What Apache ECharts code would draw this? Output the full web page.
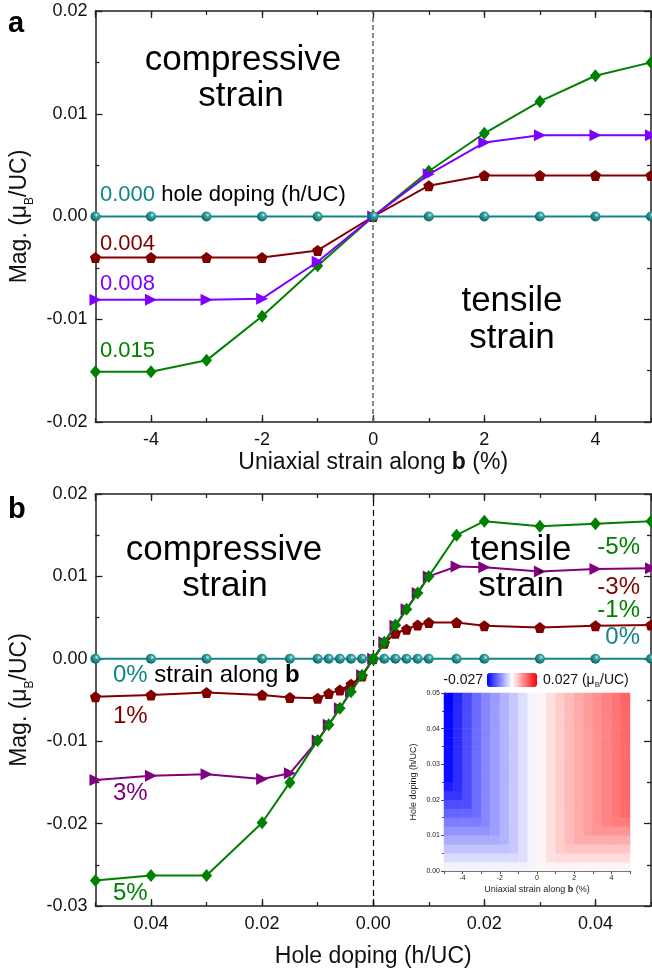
<!DOCTYPE html>
<html><head><meta charset="utf-8">
<script src="https://cdn.jsdelivr.net/npm/echarts@6/dist/echarts.min.js"></script>
<style>html,body{margin:0;padding:0;background:#fff}#c{width:652px;height:971px}</style>
</head><body><div id="c"></div>
<script>
// ---------- Panel a data ----------
const strainA = [-5,-4,-3,-2,-1,0,1,2,3,4,5];
const magA_000 = [0,0,0,0,0,0,0,0,0,0,0];
const magA_004 = [-0.004,-0.004,-0.004,-0.004,-0.0033,0,0.003,0.004,0.004,0.004,0.004];
const magA_008 = [-0.0081,-0.0081,-0.0081,-0.008,-0.0044,0,0.0041,0.0072,0.0079,0.0079,0.0079];
const magA_015 = [-0.0151,-0.0151,-0.014,-0.0097,-0.0048,0,0.0044,0.0081,0.0112,0.0137,0.015];

// ---------- Panel b data ----------
const dopingB = [-0.05,-0.04,-0.03,-0.02,-0.015,-0.01,-0.008,-0.006,-0.004,-0.002,0,0.002,0.004,0.006,0.008,0.01,0.015,0.02,0.03,0.04,0.05];
const magB_0 = [0,0,0,0,0,0,0,0,0,0,0,0,0,0,0,0,0,0,0,0,0];
const magB_1 = [-0.0046,-0.0044,-0.0041,-0.0044,-0.0047,-0.0048,-0.0042,-0.0038,-0.0031,-0.0021,0,0.0019,0.0031,0.0036,0.0041,0.0044,0.0044,0.004,0.0038,0.004,0.0041];
const magB_3 = [-0.0147,-0.0142,-0.014,-0.0146,-0.0139,-0.0099,-0.008,-0.006,-0.004,-0.002,0,0.002,0.004,0.006,0.008,0.01,0.0112,0.0111,0.0106,0.0109,0.011];
const magB_5 = [-0.0269,-0.0263,-0.0263,-0.0199,-0.015,-0.0099,-0.008,-0.006,-0.004,-0.002,0,0.002,0.0041,0.006,0.008,0.01,0.015,0.0167,0.0161,0.0164,0.0167];

// ---------- Inset heatmap data (cell centres) ----------
const heatStrain = [-4.75,-4.25,-3.75,-3.25,-2.75,-2.25,-1.75,-1.25,-0.75,-0.25,0.25,0.75,1.25,1.75,2.25,2.75,3.25,3.75,4.25,4.75];
const heatDoping = [0.00125,0.00375,0.00625,0.00875,0.01125,0.01375,0.01625,0.01875,0.02125,0.02375,0.02625,0.02875,0.03125,0.03375,0.03625,0.03875,0.04125,0.04375,0.04625,0.04875];
const heat_r00 = [-0.0013,-0.0013,-0.0013,-0.0013,-0.0013,-0.0013,-0.0013,-0.0013,-0.0013,-0.0012,0.0011,0.0013,0.0013,0.0013,0.0013,0.0013,0.0013,0.0013,0.0013,0.0013];
const heat_r01 = [-0.0038,-0.0038,-0.0038,-0.0038,-0.0038,-0.0038,-0.0038,-0.0038,-0.0035,-0.0012,0.0011,0.0033,0.0038,0.0038,0.0038,0.0038,0.0038,0.0038,0.0038,0.0038];
const heat_r02 = [-0.0063,-0.0063,-0.0063,-0.0063,-0.0063,-0.0063,-0.0063,-0.0058,-0.0035,-0.0012,0.0011,0.0033,0.0054,0.0063,0.0063,0.0063,0.0063,0.0063,0.0063,0.0063];
const heat_r03 = [-0.0088,-0.0088,-0.0088,-0.0088,-0.0088,-0.0088,-0.0081,-0.0058,-0.0035,-0.0012,0.0011,0.0033,0.0054,0.0072,0.0088,0.0088,0.0088,0.0088,0.0088,0.0088];
const heat_r04 = [-0.0113,-0.0113,-0.0113,-0.0113,-0.0113,-0.0104,-0.0081,-0.0058,-0.0035,-0.0012,0.0011,0.0033,0.0054,0.0072,0.0088,0.0103,0.0113,0.0113,0.0113,0.0113];
const heat_r05 = [-0.0138,-0.0138,-0.0138,-0.0138,-0.0127,-0.0104,-0.0081,-0.0058,-0.0035,-0.0012,0.0011,0.0033,0.0054,0.0072,0.0088,0.0103,0.0117,0.013,0.0138,0.0138];
const heat_r06 = [-0.0163,-0.0163,-0.0163,-0.0155,-0.0127,-0.0104,-0.0081,-0.0058,-0.0035,-0.0012,0.0011,0.0033,0.0054,0.0072,0.0088,0.0103,0.0117,0.013,0.0143,0.0158];
const heat_r07 = [-0.0188,-0.0188,-0.0188,-0.0155,-0.0127,-0.0104,-0.0081,-0.0058,-0.0035,-0.0012,0.0011,0.0033,0.0054,0.0072,0.0088,0.0103,0.0117,0.013,0.0143,0.0158];
const heat_r08 = [-0.0213,-0.0213,-0.0188,-0.0155,-0.0127,-0.0104,-0.0081,-0.0058,-0.0035,-0.0012,0.0011,0.0033,0.0054,0.0072,0.0088,0.0103,0.0117,0.013,0.0143,0.0158];
const heat_r09 = [-0.0238,-0.0222,-0.0188,-0.0155,-0.0127,-0.0104,-0.0081,-0.0058,-0.0035,-0.0012,0.0011,0.0033,0.0054,0.0072,0.0088,0.0103,0.0117,0.013,0.0143,0.0158];
const heat_r10 = [-0.0255,-0.0222,-0.0188,-0.0155,-0.0127,-0.0104,-0.0081,-0.0058,-0.0035,-0.0012,0.0011,0.0033,0.0054,0.0072,0.0088,0.0103,0.0117,0.013,0.0143,0.0158];
const heat_r11 = [-0.0257,-0.0222,-0.0188,-0.0155,-0.0127,-0.0104,-0.0081,-0.0058,-0.0035,-0.0012,0.0011,0.0033,0.0054,0.0072,0.0088,0.0103,0.0117,0.013,0.0143,0.0158];
const heat_r12 = [-0.0258,-0.0222,-0.0188,-0.0155,-0.0127,-0.0104,-0.0081,-0.0058,-0.0035,-0.0012,0.0011,0.0033,0.0054,0.0072,0.0088,0.0103,0.0117,0.013,0.0143,0.0158];
const heat_r13 = [-0.0258,-0.0223,-0.0188,-0.0155,-0.0127,-0.0104,-0.0081,-0.0058,-0.0035,-0.0012,0.0011,0.0033,0.0054,0.0072,0.0088,0.0103,0.0117,0.013,0.0143,0.0158];
const heat_r14 = [-0.0258,-0.0224,-0.0189,-0.0156,-0.0127,-0.0104,-0.0081,-0.0058,-0.0035,-0.0012,0.0011,0.0033,0.0054,0.0072,0.0088,0.0103,0.0117,0.0131,0.0144,0.0159];
const heat_r15 = [-0.0259,-0.0225,-0.019,-0.0156,-0.0128,-0.0104,-0.0081,-0.0058,-0.0035,-0.0012,0.0011,0.0033,0.0054,0.0072,0.0088,0.0103,0.0117,0.0131,0.0144,0.0159];
const heat_r16 = [-0.026,-0.0226,-0.019,-0.0157,-0.0128,-0.0105,-0.0081,-0.0058,-0.0035,-0.0012,0.0011,0.0033,0.0054,0.0072,0.0089,0.0104,0.0118,0.0131,0.0145,0.016];
const heat_r17 = [-0.0262,-0.0227,-0.0191,-0.0157,-0.0128,-0.0105,-0.0082,-0.0058,-0.0035,-0.0012,0.0011,0.0033,0.0054,0.0073,0.0089,0.0104,0.0118,0.0132,0.0145,0.016];
const heat_r18 = [-0.0265,-0.0228,-0.0192,-0.0158,-0.0129,-0.0105,-0.0082,-0.0059,-0.0035,-0.0012,0.0011,0.0033,0.0055,0.0073,0.0089,0.0104,0.0118,0.0132,0.0146,0.0162];
const heat_r19 = [-0.0268,-0.023,-0.0193,-0.0158,-0.0129,-0.0106,-0.0082,-0.0059,-0.0035,-0.0012,0.0011,0.0033,0.0055,0.0073,0.0089,0.0104,0.0119,0.0133,0.0147,0.0164];
const heatRows = [heat_r00,heat_r01,heat_r02,heat_r03,heat_r04,heat_r05,heat_r06,heat_r07,heat_r08,heat_r09,
                  heat_r10,heat_r11,heat_r12,heat_r13,heat_r14,heat_r15,heat_r16,heat_r17,heat_r18,heat_r19];

// ---------- styling ----------
const FONT = '"Liberation Sans", Arial, Helvetica, sans-serif';
const TEAL = '#138585', DRED = '#800000', VIOL = '#8000ff', PURP = '#800080', GREEN = '#008000';
const PENT = 'path://M0,-10 L9.51,-3.09 L5.88,8.09 L-5.88,8.09 L-9.51,-3.09 Z';
const TRI_R = 'path://M0,0 L10,5 L0,10 Z';
const sphere = new echarts.graphic.RadialGradient(0.62, 0.35, 0.65, [
  {offset:0, color:'#d8f0f0'}, {offset:0.3, color:'#3aa5a5'}, {offset:1, color:'#0a6565'}]);

function pairs(xs, ys){ return xs.map((x,i)=>[x, ys[i]]); }
function fmt2(v){ return Math.abs(v) < 1e-9 ? '0.00' : v.toFixed(2); }

function mkSeries(xs, ys, color, symbol, size, xi, yi, z, symColor){
  return {
    type:'line', xAxisIndex:xi, yAxisIndex:yi, z:z,
    data: pairs(xs, ys), symbol:symbol, symbolSize:size, showAllSymbol:true,
    lineStyle:{color:color, width:2}, itemStyle:{color: symColor || color, borderWidth:0},
    emphasis:{disabled:true}, animation:false, silent:true, clip:false
  };
}

const axLine = {show:true, onZero:false, lineStyle:{color:'#222', width:1.5}};
function majorX(grid, pos, min, max, withLabels, labelFmt, nameCfg){
  const a = {
    type:'value', gridIndex:grid, position:pos, min:min, max:max, splitNumber:5,
    axisLine:axLine, splitLine:{show:false},
    axisTick:{show:true, inside:true, length:7, lineStyle:{color:'#222', width:1.3}},
    axisLabel:{show:withLabels, fontFamily:FONT, fontSize:18, color:'#111', margin:9,
      showMinLabel:false, showMaxLabel:false, formatter:labelFmt}
  };
  if (nameCfg) Object.assign(a, nameCfg);
  return a;
}
function minorX(grid, pos, min, max, interval){
  return {
    type:'value', gridIndex:grid, position:pos, min:min, max:max, interval:interval,
    axisLine:{show:false, onZero:false}, splitLine:{show:false}, axisLabel:{show:false},
    axisTick:{show:true, inside:true, length:4, lineStyle:{color:'#222', width:1.3}}
  };
}
function yAx(grid, pos, min, max, withLabels, nameCfg){
  const a = {
    type:'value', gridIndex:grid, position:pos, min:min, max:max, interval:0.01,
    axisLine:axLine, splitLine:{show:false},
    axisTick:{show:true, inside:true, length:7, lineStyle:{color:'#222', width:1.3}},
    minorTick:{show:true, splitNumber:2, length:4, lineStyle:{color:'#222', width:1.3}},
    minorSplitLine:{show:false},
    axisLabel:{show:withLabels, fontFamily:FONT, fontSize:18, color:'#111', margin:8, formatter:fmt2}
  };
  if (nameCfg) Object.assign(a, nameCfg);
  return a;
}
const magRich = {
  n:{fontFamily:FONT, fontSize:23, color:'#111', lineHeight:32},
  s:{fontFamily:FONT, fontSize:12, color:'#111', verticalAlign:'bottom', lineHeight:12}
};
const yName = {name:'{n|Mag. (μ}{s|B}{n|/UC)}', nameLocation:'middle', nameGap:52, nameRotate:90,
  nameTextStyle:{rich:magRich}};

const xNameA = {name:'{n|Uniaxial strain along }{b|b}{n| (%)}', nameLocation:'middle', nameGap:29,
  nameTextStyle:{rich:{n:{fontFamily:FONT, fontSize:23, color:'#111'}, b:{fontFamily:FONT, fontSize:23, fontWeight:'bold', color:'#111'}}}};
const xNameB = {name:'Hole doping (h/UC)', nameLocation:'middle', nameGap:39,
  nameTextStyle:{fontFamily:FONT, fontSize:23, color:'#111'}};

// heatmap data
const heatData = [];
heatRows.forEach((row, j) => row.forEach((v, i) => heatData.push([i, j, v])));

const xAxes = [
  majorX(0,'bottom',-5,5,true,(v)=>String(Math.round(v)), xNameA),  //0
  minorX(0,'bottom',-5,5,1),                                          //1
  majorX(0,'top',-5,5,false),                                         //2
  minorX(0,'top',-5,5,1),                                             //3
  majorX(1,'bottom',-0.05,0.05,true,(v)=>Math.abs(v).toFixed(2), xNameB), //4
  minorX(1,'bottom',-0.05,0.05,0.01),                                 //5
  majorX(1,'top',-0.05,0.05,false),                                   //6
  minorX(1,'top',-0.05,0.05,0.01),                                    //7
  {type:'category', gridIndex:2, data:heatStrain.map(String), show:false}, //8
  {type:'value', gridIndex:2, position:'bottom', min:-5, max:5, interval:1,
    axisLine:{show:true, onZero:false, lineStyle:{color:'#222', width:0.8}}, splitLine:{show:false},
    axisTick:{show:true, inside:false, length:3, lineStyle:{color:'#222', width:0.8}},
    axisLabel:{fontFamily:FONT, fontSize:7, color:'#222', margin:4,
      formatter:(v)=>{const r=Math.round(v); return (r%2===0)?String(r):'';}},
    name:'{n|Uniaxial strain along }{b|b}{n| (%)}', nameLocation:'middle', nameGap:14,
    nameTextStyle:{rich:{n:{fontFamily:FONT, fontSize:9, color:'#222'}, b:{fontFamily:FONT, fontSize:9, fontWeight:'bold', color:'#222'}}}} //9
];
const yAxes = [
  yAx(0,'left',-0.02,0.02,true,yName),   //0
  yAx(0,'right',-0.02,0.02,false),       //1
  yAx(1,'left',-0.03,0.02,true,yName),   //2
  yAx(1,'right',-0.03,0.02,false),       //3
  {type:'category', gridIndex:2, data:heatDoping.map(String), show:false}, //4
  {type:'value', gridIndex:2, position:'left', min:0, max:0.05, interval:0.01,
    axisLine:{show:true, onZero:false, lineStyle:{color:'#222', width:0.8}}, splitLine:{show:false},
    axisTick:{show:true, inside:false, length:3, lineStyle:{color:'#222', width:0.8}},
    minorTick:{show:true, splitNumber:2, length:2, lineStyle:{color:'#222', width:0.8}},
    axisLabel:{fontFamily:FONT, fontSize:7, color:'#222', margin:4, formatter:fmt2},
    name:'Hole doping (h/UC)', nameLocation:'middle', nameGap:26, nameRotate:90,
    nameTextStyle:{fontFamily:FONT, fontSize:9, color:'#222'}} //5
];

const seriesA_000 = mkSeries(strainA, magA_000, TEAL, 'circle', 10, 0, 0, 6, sphere);
seriesA_000.markLine = {silent:true, symbol:'none', label:{show:false}, animation:false,
  lineStyle:{color:'#666', type:[5,3], width:1.5}, data:[{xAxis:0}]};
const seriesB_0 = mkSeries(dopingB, magB_0, TEAL, 'circle', 10, 4, 2, 5, sphere);
seriesB_0.markLine = {silent:true, symbol:'none', label:{show:false}, animation:false,
  lineStyle:{color:'#000', type:[6,4], width:1.2}, data:[{xAxis:0}]};

const series = [
  mkSeries(strainA, magA_004, DRED, PENT, 11, 0, 0, 3),
  mkSeries(strainA, magA_015, GREEN, 'diamond', [11,13], 0, 0, 4),
  mkSeries(strainA, magA_008, VIOL, TRI_R, [12,12], 0, 0, 5),
  seriesA_000,
  mkSeries(dopingB, magB_3, PURP, TRI_R, [12,12], 4, 2, 2),
  mkSeries(dopingB, magB_1, DRED, PENT, 11, 4, 2, 3),
  seriesB_0,
  mkSeries(dopingB, magB_5, GREEN, 'diamond', [11,13], 4, 2, 6),
  {type:'heatmap', xAxisIndex:8, yAxisIndex:4, data:heatData, silent:true, animation:false,
    itemStyle:{borderWidth:0}, emphasis:{disabled:true}, progressive:0}
];

function txt(text, x, y, color, size, align, extra){
  return {type:'text', silent:true, z:100, style:Object.assign({text:text, x:x, y:y, fill:color,
    fontFamily:FONT, fontSize:size, align:align||'left', verticalAlign:'middle'}, extra||{})};
}

const graphics = [
  txt('a', 8, 24, '#000', 29, 'left', {fontWeight:'bold'}),
  txt('compressive', 243, 60, '#000', 35, 'center'),
  txt('strain', 241, 96, '#000', 35, 'center'),
  txt('tensile', 512, 301, '#000', 35, 'center'),
  txt('strain', 512, 338, '#000', 35, 'center'),
  txt('{t|0.000} {k|hole doping (h/UC)}', 100, 195, '#000', 22, 'left',
      {rich:{t:{fill:TEAL, fontFamily:FONT, fontSize:22}, k:{fill:'#000', fontFamily:FONT, fontSize:22}}}),
  txt('0.004', 100, 244, DRED, 22),
  txt('0.008', 100, 284, VIOL, 22),
  txt('0.015', 100, 351, GREEN, 22),

  txt('b', 8, 510, '#000', 29, 'left', {fontWeight:'bold'}),
  txt('compressive', 224, 550, '#000', 35, 'center'),
  txt('strain', 225, 586, '#000', 35, 'center'),
  txt('tensile', 521, 550, '#000', 35, 'center'),
  txt('strain', 521, 586, '#000', 35, 'center'),
  txt('{t|0%} {k|strain along }{b|b}', 113, 675, '#000', 24, 'left',
      {rich:{t:{fill:TEAL, fontFamily:FONT, fontSize:24}, k:{fill:'#000', fontFamily:FONT, fontSize:24},
             b:{fill:'#000', fontFamily:FONT, fontSize:24, fontWeight:'bold'}}}),
  txt('1%', 113, 716, DRED, 24),
  txt('3%', 113, 793, PURP, 24),
  txt('5%', 113, 893, GREEN, 24),
  txt('-5%', 640, 547, GREEN, 24, 'right'),
  txt('-3%', 640, 587, DRED, 24, 'right'),
  txt('-1%', 640, 610, GREEN, 24, 'right'),
  txt('0%', 640, 637, TEAL, 24, 'right'),

  txt('-0.027', 483, 680, '#111', 14, 'right'),
  txt('{n|0.027 (μ}{s|B}{n|/UC)}', 543, 680, '#111', 14, 'left',
      {rich:{n:{fill:'#111', fontFamily:FONT, fontSize:14, lineHeight:18}, s:{fill:'#111', fontFamily:FONT, fontSize:8, verticalAlign:'bottom', lineHeight:8}}})
];

const option = {
  backgroundColor:'#ffffff',
  animation:false,
  grid:[
    {left:93, right:1, top:11, height:411},
    {left:93, right:1, top:494, height:412},
    {left:444, top:693, width:186, height:178}
  ],
  xAxis:xAxes,
  yAxis:yAxes,
  visualMap:{type:'continuous', seriesIndex:8, min:-0.027, max:0.027, orient:'horizontal',
    left:487, top:673, itemWidth:14, itemHeight:50, calculable:false, hoverLink:false, padding:0,
    inRange:{color:['#0000ff','#ffffff','#ff0000']}, text:null, showLabel:false},
  series:series,
  graphic:{elements:graphics}
};

const chart = echarts.init(document.getElementById('c'), null, {renderer:'canvas'});
chart.setOption(option);
</script></body></html>
